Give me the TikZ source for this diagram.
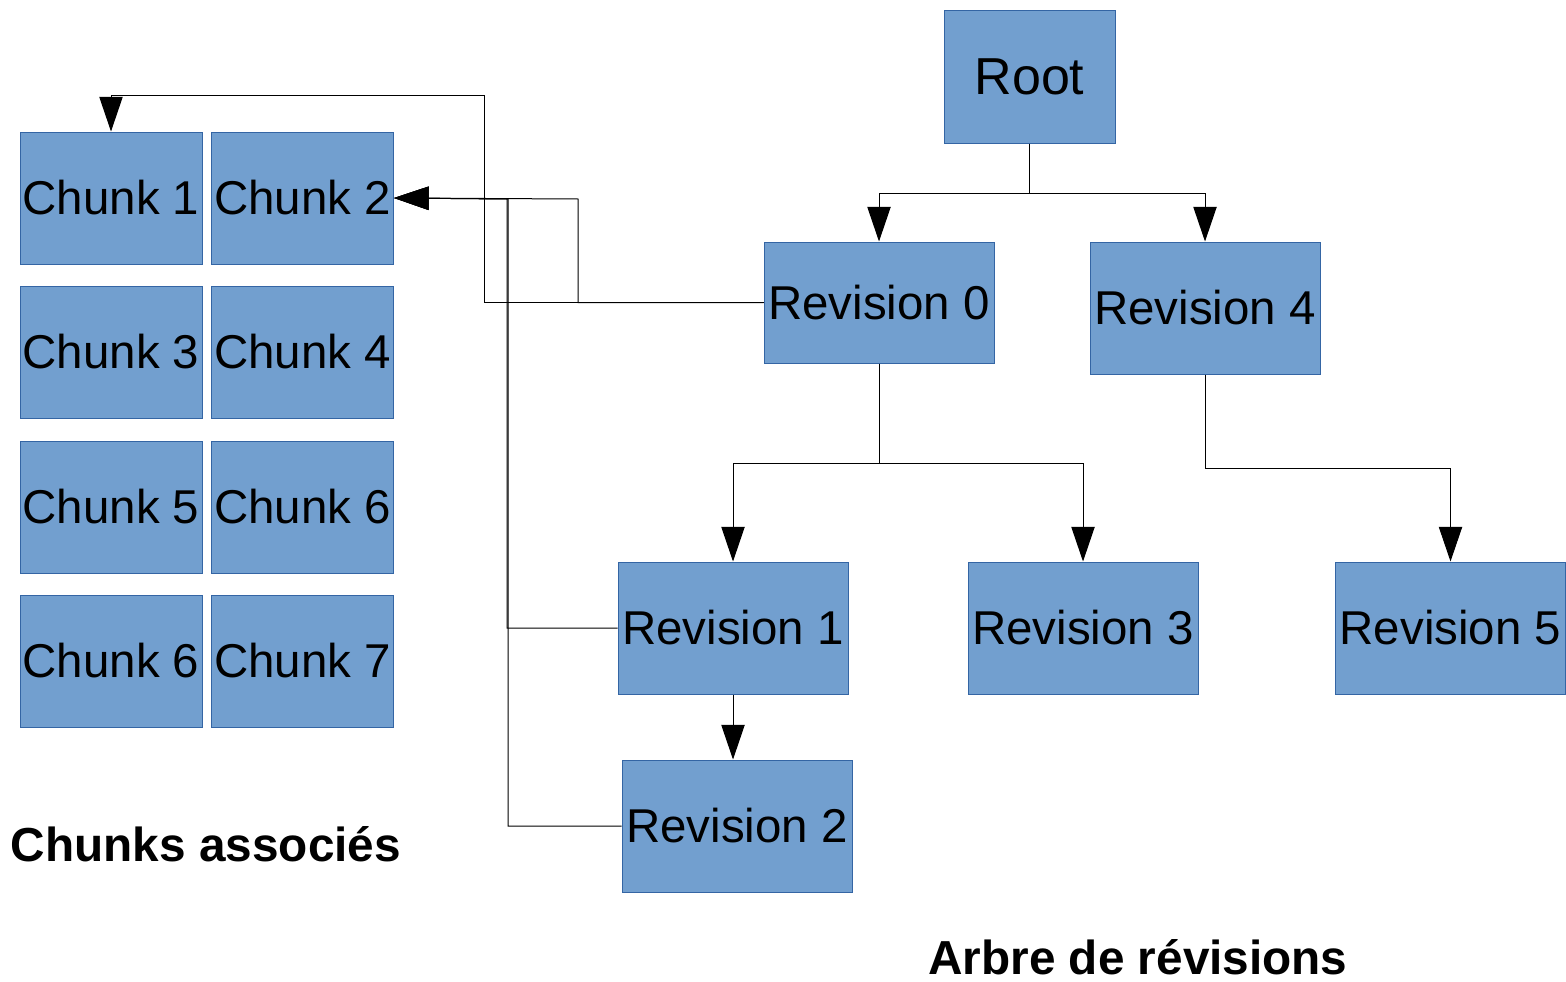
\documentclass[tikz,border=0pt]{standalone}
\usepackage{fontspec}
\setmainfont{Liberation Sans}
\usetikzlibrary{arrows.meta}
\definecolor{boxfill}{HTML}{729FCF}
\definecolor{boxline}{HTML}{3465A4}
\tikzset{
  box/.style={draw=boxline, fill=boxfill, line width=0.75pt, inner sep=0pt, font=\fontsize{35.6}{40}\selectfont, text=black},
  chunkbox/.style={box, minimum width=136.5pt, minimum height=99pt},
  revbox/.style={box, minimum width=172.5pt, minimum height=99pt},
  conn/.style={draw=black, line width=0.75pt},
  arr/.style={conn, -{Triangle[length=26pt,width=17.5pt]}},
  caption/.style={font=\fontsize{35.8}{40}\selectfont\bfseries, inner sep=0pt}
}
\begin{document}
\begin{tikzpicture}[x=0.75pt, y=-0.75pt]
\useasboundingbox (0,0) rectangle (1566,981);
% tree
\node[box, minimum width=128.25pt, minimum height=99pt, font=\fontsize{39}{44}\selectfont] (Root) at (1029.5,77) {Root};
\node[revbox, minimum height=90.75pt] (Rev0) at (879,302.5) {Revision 0};
\node[revbox] (Rev4) at (1205,308) {Revision 4};
\node[revbox] (Rev1) at (733,628) {Revision 1};
\node[revbox] (Rev3) at (1083,628) {Revision 3};
\node[revbox] (Rev5) at (1450.5,628) {Revision 5};
\node[revbox] (Rev2) at (737,826) {Revision 2};
% chunks
\node[chunkbox] (C1) at (111,198) {Chunk 1};
\node[chunkbox] (C2) at (302.5,198) {Chunk 2};
\node[chunkbox] (C3) at (111,352) {Chunk 3};
\node[chunkbox] (C4) at (302.5,352) {Chunk 4};
\node[chunkbox] (C5) at (111,507) {Chunk 5};
\node[chunkbox] (C6) at (302.5,507) {Chunk 6};
\node[chunkbox] (C7) at (111,661) {Chunk 6};
\node[chunkbox] (C8) at (302.5,661) {Chunk 7};
% captions
\node[caption] (capC) at (206,844) {Chunks associés};
\node[caption] (capA) at (1138,957) {Arbre de révisions};
% bend coordinates
\coordinate (j0) at (1029.5,193);
\coordinate (j1) at (879,463);
\coordinate (j4) at (1205,468);
\coordinate (b1) at (484,95);
\coordinate (b2) at (578,199);
\coordinate (b3) at (507,199);
\coordinate (b4) at (508,199);
% tree connectors
\draw[conn] (Root.south) -- (j0);
\draw[arr] (j0) -| (Rev0.north);
\draw[arr] (j0) -| (Rev4.north);
\draw[conn] (Rev0.south) -- (j1);
\draw[arr] (j1) -| (Rev1.north);
\draw[arr] (j1) -| (Rev3.north);
\draw[conn] (Rev4.south) -- (j4);
\draw[arr] (j4) -| (Rev5.north);
\draw[arr] (Rev1.south) -- (Rev1.south |- Rev2.north);
% chunk connectors
\draw[arr] (Rev0.west) -| (b1) -| (C1.north);
\draw[arr] (Rev0.west) -| (b2) -- (C2.east);
\draw[arr] (Rev1.west) -| (b3) -- (C2.east);
\draw[arr] (Rev2.west) -| (b4) -- (C2.east);
\end{tikzpicture}
\end{document}
